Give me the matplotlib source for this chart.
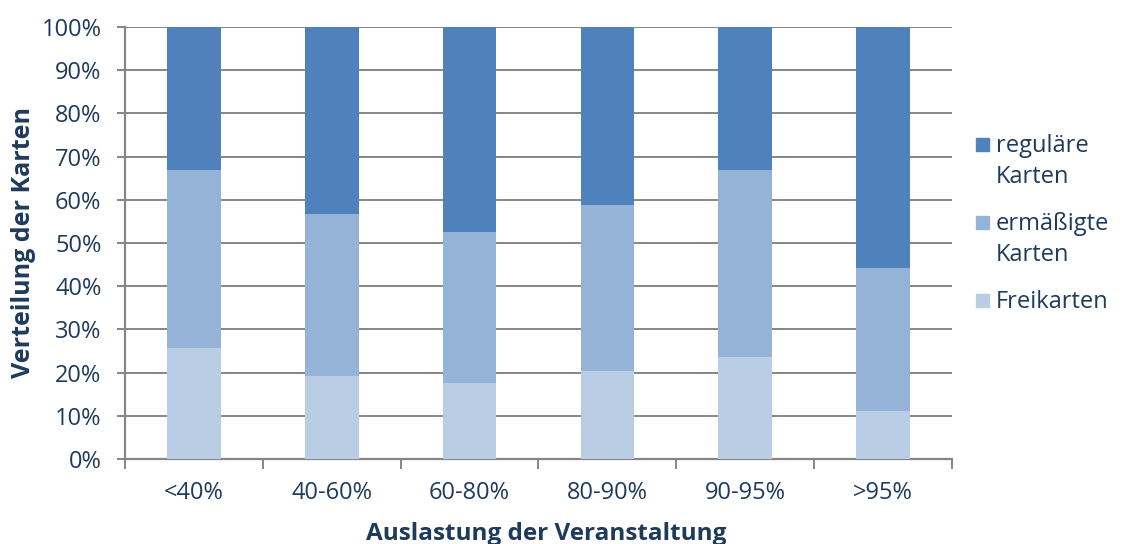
import numpy as np
import matplotlib
matplotlib.use("Agg")
import matplotlib.pyplot as plt
from matplotlib.patches import Rectangle
from matplotlib.ticker import FixedLocator, PercentFormatter

# data (share of tickets in %)
categories = ["<40%", "40-60%", "60-80%", "80-90%", "90-95%", ">95%"]
freikarten = [25.6, 19.1, 17.6, 20.4, 23.6, 11.1]
ermaessigt = [41.4, 37.6, 35.0, 38.3, 43.4, 33.2]
regulaer = [100 - f - e for f, e in zip(freikarten, ermaessigt)]

series_labels = ["reguläre\nKarten", "ermäßigte\nKarten", "Freikarten"]
colors = ["#4F81BD", "#95B3D7", "#B9CDE5"]
text_color = "#1F3B5C"
grid_color = "#868686"

plt.rcParams["font.family"] = ["Open Sans", "DejaVu Sans"]

W, H = 1129, 544
fig = plt.figure(figsize=(W / 100, H / 100), dpi=100)
ax = fig.add_axes([125 / W, 1 - 459 / H, (952 - 125) / W, (459 - 27) / H])

x = np.arange(len(categories))
w = 0.39
ax.bar(x, freikarten, w, color=colors[2], zorder=3)
ax.bar(x, ermaessigt, w, bottom=freikarten, color=colors[1], zorder=3)
ax.bar(x, regulaer, w, bottom=np.add(freikarten, ermaessigt), color=colors[0], zorder=3)

ax.set_xlim(-0.5, len(categories) - 0.5)
ax.set_ylim(0, 100)
ax.set_yticks(np.arange(0, 101, 10))
ax.yaxis.set_major_formatter(PercentFormatter(decimals=0))
ax.grid(axis="y", color=grid_color, linewidth=1.4, zorder=0)

ax.set_xticks(x)
ax.set_xticklabels(categories)
ax.xaxis.set_minor_locator(FixedLocator(np.arange(-0.5, len(categories), 1)))
ax.tick_params(axis="x", which="major", length=0, pad=16, labelsize=17, labelcolor=text_color)
ax.tick_params(axis="x", which="minor", length=7, width=1.4, color=grid_color, direction="out")
ax.tick_params(axis="y", length=6, width=1.4, color=grid_color, labelsize=17,
               labelcolor=text_color, pad=11)

for side in ["top", "right"]:
    ax.spines[side].set_visible(False)
for side in ["left", "bottom"]:
    ax.spines[side].set_color(grid_color)
    ax.spines[side].set_linewidth(1.6)

ax.set_ylabel("Verteilung der Karten", fontsize=18, fontweight="bold", color=text_color, va="center")
ax.yaxis.set_label_coords((24 - 125) / 827, 0.5)
ax.set_xlabel("Auslastung der Veranstaltung", fontsize=17.5, fontweight="bold", color=text_color,
              va="center")
ax.xaxis.set_label_coords((546 - 125) / 827, (459 - 534) / 432)

# legend drawn by hand so the square sits beside the first line of each label
entry_rows = [144, 222, 300]
line_step = 31
for label, color, row in zip(series_labels, colors, entry_rows):
    fig.patches.append(Rectangle((976 / W, 1 - (row + 6.5) / H), 12.5 / W, 13 / H,
                                 color=color, transform=fig.transFigure))
    for i, line in enumerate(label.split("\n")):
        fig.text(996 / W, 1 - (row + i * line_step + 8) / H, line, fontsize=17,
                 color=text_color, ha="left", va="baseline")

fig.savefig("out.png", dpi=100)
